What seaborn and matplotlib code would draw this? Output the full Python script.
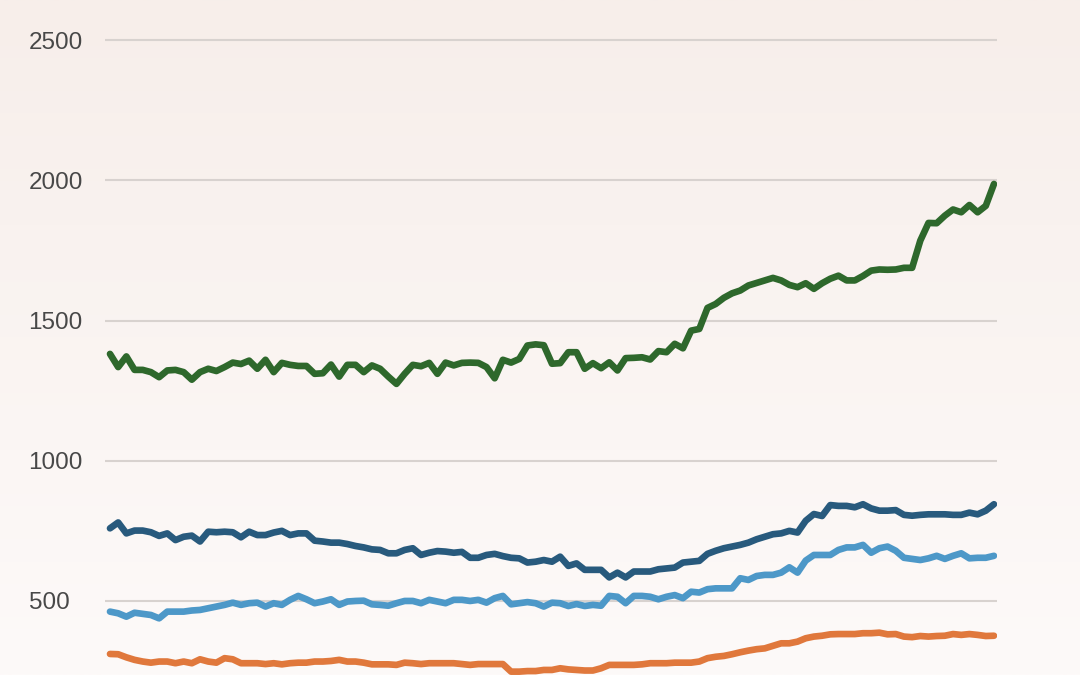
import numpy as np
import pandas as pd
import matplotlib
matplotlib.use('Agg')
import matplotlib.pyplot as plt
from matplotlib.colors import LinearSegmentedColormap
import seaborn as sns

# values, 109 points per series
green = [1381, 1334, 1372, 1324, 1324, 1316, 1298, 1322, 1324, 1316,
         1289, 1316, 1328, 1320, 1334, 1350, 1345, 1357, 1328, 1360,
         1316, 1349, 1342, 1338, 1338, 1310, 1312, 1343, 1300, 1342,
         1342, 1316, 1340, 1328, 1300, 1274, 1310, 1342, 1337, 1349,
         1310, 1350, 1340, 1349, 1350, 1349, 1334, 1294, 1360, 1350,
         1363, 1411, 1415, 1412, 1346, 1348, 1387, 1387, 1328, 1348,
         1330, 1351, 1322, 1366, 1367, 1369, 1361, 1391, 1387, 1417,
         1401, 1464, 1470, 1545, 1559, 1581, 1597, 1607, 1625, 1634,
         1643, 1652, 1643, 1627, 1619, 1633, 1613, 1633, 1649, 1660,
         1643, 1643, 1659, 1678, 1682, 1681, 1682, 1688, 1688, 1785,
         1848, 1847, 1874, 1896, 1886, 1912, 1886, 1909, 1987]

navy = [759, 780, 741, 751, 751, 745, 732, 741, 717, 729,
        733, 712, 747, 745, 747, 745, 727, 747, 735, 735,
        744, 750, 735, 741, 741, 715, 712, 708, 708, 703,
        696, 691, 684, 682, 670, 670, 682, 688, 664, 672,
        678, 676, 672, 675, 654, 654, 664, 668, 660, 654,
        652, 637, 640, 646, 640, 658, 625, 634, 611, 611,
        611, 584, 601, 584, 605, 605, 605, 613, 616, 619,
        637, 640, 643, 668, 679, 688, 694, 700, 708, 720,
        729, 738, 741, 750, 744, 786, 810, 803, 842, 839,
        839, 834, 845, 830, 822, 822, 824, 807, 804, 807,
        809, 809, 809, 807, 807, 815, 809, 822, 845]

light_blue = [462, 456, 444, 458, 454, 450, 438, 462, 462, 462,
              466, 468, 474, 480, 486, 494, 486, 492, 494, 480,
              492, 486, 504, 518, 506, 492, 498, 506, 486, 498,
              500, 501, 488, 486, 483, 492, 500, 500, 492, 504,
              498, 492, 504, 504, 500, 504, 494, 510, 518, 488,
              492, 496, 492, 480, 494, 492, 482, 489, 482, 486,
              483, 518, 515, 492, 518, 518, 515, 506, 515, 521,
              510, 533, 530, 542, 545, 545, 545, 581, 575, 589,
              593, 593, 601, 620, 601, 644, 664, 664, 664, 682,
              691, 691, 700, 672, 688, 694, 679, 654, 650, 646,
              652, 661, 650, 661, 670, 652, 654, 654, 661]

orange = [311, 310, 299, 290, 284, 280, 284, 284, 278, 284,
          278, 292, 284, 280, 296, 292, 278, 278, 278, 275,
          278, 274, 278, 280, 280, 284, 284, 286, 290, 284,
          284, 280, 274, 274, 274, 272, 280, 278, 275, 278,
          278, 278, 278, 275, 272, 275, 275, 275, 275, 248,
          248, 250, 250, 254, 254, 260, 256, 254, 252, 252,
          260, 272, 272, 272, 272, 274, 278, 278, 278, 280,
          280, 280, 284, 296, 301, 304, 310, 317, 323, 328,
          331, 340, 349, 349, 355, 367, 373, 376, 381, 382,
          382, 382, 385, 385, 387, 381, 382, 373, 371, 375,
          373, 375, 376, 382, 379, 382, 379, 375, 376]

series_names = ['green', 'navy', 'light_blue', 'orange']
series_colors = ['#2e682c', '#285a7d', '#4d98c8', '#e0783c']
yticks = [500, 1000, 1500, 2000, 2500]

sns.set_theme(style='white')
plt.rcParams['font.family'] = ['Liberation Sans', 'DejaVu Sans']

fig = plt.figure(figsize=(10.8, 6.75), dpi=100)

# soft vertical background gradient
bg = fig.add_axes([0, 0, 1, 1], zorder=0)
grad = np.linspace(0, 1, 256).reshape(-1, 1)
cmap = LinearSegmentedColormap.from_list('bg', ['#f7eeea', '#fdfaf9'])
bg.imshow(grad, aspect='auto', cmap=cmap, extent=[0, 1, 0, 1], origin='upper')
bg.axis('off')

ax = fig.add_axes([105 / 1080, 0, 892 / 1080, 645 / 675], zorder=1)
ax.patch.set_alpha(0)

df = pd.DataFrame({'green': green, 'navy': navy,
                   'light_blue': light_blue, 'orange': orange})
df['t'] = np.arange(len(df))
long_df = df.melt(id_vars='t', var_name='series', value_name='value')

sns.lineplot(data=long_df, x='t', y='value', hue='series',
             hue_order=series_names, palette=series_colors,
             linewidth=4.8, legend=False, ax=ax,
             solid_capstyle='round', solid_joinstyle='round')

ax.set_xlim(-0.61, 108.37)
ax.set_ylim(236, 2536)
ax.set_xticks([])
ax.set_yticks(yticks)
ax.set_xlabel('')
ax.set_ylabel('')
ax.yaxis.grid(True, color='#d8d2cf', linewidth=1.5)
ax.xaxis.grid(False)
ax.set_axisbelow(True)
for s in ax.spines.values():
    s.set_visible(False)
ax.tick_params(axis='y', length=0, pad=55, labelsize=17.5, labelcolor='#484848')
for lab in ax.get_yticklabels():
    lab.set_horizontalalignment('left')

plt.savefig('out.png', dpi=100)
